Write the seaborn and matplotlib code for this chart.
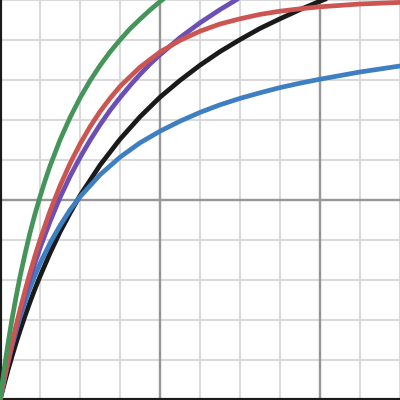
# Saturating curves on a graph-paper grid

import matplotlib.pyplot as plt
import seaborn as sns

# Values, one x list per curve
green_x = [0, 0.1, 0.2, 0.3, 0.4, 0.5, 0.625, 0.75, 0.875, 1, 1.125, 1.25, 1.5, 1.75, 2, 2.25, 2.5, 2.75, 3, 3.25, 3.5, 3.75, 4, 4.25, 4.5]
green_y = [0, 0.74, 1.41, 2.02, 2.57, 3.08, 3.65, 4.18, 4.65, 5.08, 5.48, 5.85, 6.50, 7.06, 7.55, 7.98, 8.36, 8.70, 9.00, 9.28, 9.52, 9.75, 9.96, 10.15, 10.33]

purple_x = [0, 0.1, 0.2, 0.3, 0.4, 0.5, 0.625, 0.75, 0.875, 1, 1.25, 1.5, 1.75, 2, 2.25, 2.5, 2.75, 3, 3.25, 3.5, 3.75, 4, 4.5, 5, 5.5, 6, 6.5]
purple_y = [0, 0.49, 0.95, 1.38, 1.79, 2.17, 2.62, 3.04, 3.43, 3.80, 4.46, 5.06, 5.59, 6.06, 6.49, 6.88, 7.24, 7.56, 7.86, 8.14, 8.40, 8.63, 9.06, 9.43, 9.76, 10.06, 10.32]

red_x = [0, 0.1, 0.2, 0.3, 0.4, 0.5, 0.625, 0.75, 0.875, 1, 1.25, 1.5, 1.75, 2, 2.25, 2.5, 2.75, 3, 3.5, 4, 4.5, 5, 5.5, 6, 6.5, 7, 7.5, 8, 9, 10]
red_y = [0, 0.50, 0.97, 1.42, 1.85, 2.25, 2.73, 3.18, 3.60, 4.00, 4.72, 5.35, 5.91, 6.40, 6.83, 7.21, 7.54, 7.84, 8.32, 8.70, 8.99, 9.22, 9.40, 9.53, 9.64, 9.72, 9.78, 9.83, 9.90, 9.94]

black_x = [0, 0.1, 0.2, 0.3, 0.4, 0.5, 0.625, 0.75, 0.875, 1, 1.25, 1.5, 1.75, 2, 2.5, 3, 3.5, 4, 4.5, 5, 5.5, 6, 6.5, 7, 7.5, 8, 8.5, 9]
black_y = [0, 0.38, 0.75, 1.09, 1.42, 1.73, 2.10, 2.45, 2.78, 3.09, 3.67, 4.20, 4.67, 5.11, 5.87, 6.52, 7.08, 7.57, 7.99, 8.37, 8.71, 9.01, 9.29, 9.53, 9.76, 9.97, 10.16, 10.33]

blue_x = [0, 0.1, 0.2, 0.3, 0.4, 0.5, 0.625, 0.75, 0.875, 1, 1.25, 1.5, 1.75, 2, 2.5, 3, 3.5, 4, 4.5, 5, 5.5, 6, 6.5, 7, 7.5, 8, 9, 10]
blue_y = [0, 0.49, 0.94, 1.35, 1.72, 2.06, 2.44, 2.80, 3.12, 3.41, 3.92, 4.36, 4.75, 5.08, 5.63, 6.07, 6.43, 6.72, 6.97, 7.19, 7.38, 7.54, 7.68, 7.81, 7.92, 8.02, 8.20, 8.35]

# drawing order: back to front
curves = [
    (black_x, black_y, '#1a1a1a'),
    (blue_x, blue_y, '#3d7fc0'),
    (purple_x, purple_y, '#6c4fb4'),
    (red_x, red_y, '#cc5451'),
    (green_x, green_y, '#45955a'),
]

sns.set_style('white')

fig = plt.figure(figsize=(4, 4), dpi=100)
ax = fig.add_axes([0, 0, 1, 1])

# grid: light lines every unit, darker major lines
for v in range(0, 11):
    ax.axvline(v, color='#dadada', lw=1.5, zorder=0)
    ax.axhline(v, color='#dadada', lw=1.5, zorder=0)
for v in [4, 8]:
    ax.axvline(v, color='#979797', lw=1.7, zorder=1)
ax.axhline(5, color='#979797', lw=1.7, zorder=1)

for xs, ys, col in curves:
    sns.lineplot(x=xs, y=ys, color=col, lw=3.4, ax=ax, sort=False,
                 solid_capstyle='round', solid_joinstyle='round', zorder=3)

ax.set_xlim(0, 10)
ax.set_ylim(0, 10)
ax.set_xticks([])
ax.set_yticks([])
ax.set_xlabel('')
ax.set_ylabel('')

# axis lines on left and bottom only
for side in ['top', 'right']:
    ax.spines[side].set_visible(False)
for side in ['left', 'bottom']:
    ax.spines[side].set_color('#1a1a1a')
    ax.spines[side].set_linewidth(3)

fig.savefig('out.png', dpi=100)
